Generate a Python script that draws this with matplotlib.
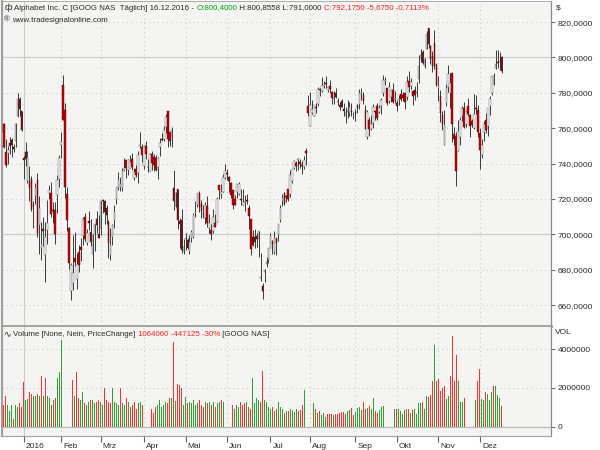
import matplotlib
matplotlib.use("Agg")
import matplotlib.pyplot as plt
import numpy as np
from matplotlib.transforms import ScaledTranslation

plt.rcParams["font.family"] = ["Liberation Sans", "DejaVu Sans"]

# ---------------------------------------------------------------------------
# Data: GOOG daily candles 16.12.2015 - 16.12.2016
# ---------------------------------------------------------------------------
days_per_month = [11, 19, 20, 22, 21, 21, 22, 20, 23, 21, 21, 21, 12]
month_labels = ["2016", "Feb", "Mrz", "Apr", "Mai", "Jun", "Jul", "Aug",
                "Sep", "Okt", "Nov", "Dez"]

opens = [
    750.00, 762.42, 746.51, 746.13, 751.65, 753.47, 749.55, 752.92, 766.69, 776.60, 769.50,
    743.00, 746.45, 730.00, 730.31, 731.45, 716.61, 721.68, 730.85, 705.38, 692.29,
    703.30, 688.61, 702.18, 723.60, 723.58, 713.85, 713.67, 722.22, 731.53,
    750.46, 784.50, 770.22, 722.81, 703.87, 667.85, 672.32, 686.86, 675.00, 690.26,
    692.98, 699.00, 710.00, 695.03, 707.45, 701.45, 688.92, 700.01, 708.58, 700.32,
    703.62, 719.00, 718.68, 714.99, 706.90, 688.59, 698.47, 708.12, 720.00, 726.81, 726.92,
    726.37, 736.45, 741.86, 736.50, 737.46, 742.36, 732.01, 736.79, 734.59, 750.10, 749.25,
    738.60, 750.06, 738.00, 735.77, 745.37, 743.97, 743.02, 738.00, 749.16, 754.01, 753.98,
    760.46, 769.51, 758.00, 755.38, 726.30, 716.10, 725.42, 707.29, 708.26, 690.70,
    697.63, 696.87, 690.49, 697.70, 698.38, 712.00, 716.75, 723.41, 717.06, 711.93, 709.13,
    715.99, 703.67, 702.36, 701.62, 706.53, 706.86, 728.09, 722.87, 724.01, 731.74,
    734.53, 732.50, 729.27, 724.91, 719.84, 723.96, 722.87, 719.47, 716.51, 718.27, 719.00,
    714.91, 708.65, 698.77, 698.40, 699.06, 697.45, 675.17, 671.00, 678.97, 683.00, 685.47,
    692.20, 696.06, 689.98, 698.08, 699.50, 708.05, 719.12, 723.62, 721.58, 725.73,
    722.71, 729.89, 737.33, 740.36, 741.86, 740.67, 739.04, 738.28, 747.04, 772.71,
    761.09, 768.69, 767.18, 772.22, 773.78, 782.00, 781.10, 783.75, 785.00, 781.50, 783.75, 780.30,
    777.32, 780.01, 775.00, 773.27, 775.48, 770.58, 767.00, 769.00, 768.74, 769.33, 767.01,
    769.25, 773.01, 773.45, 780.00, 778.59, 770.10, 755.13, 764.48, 759.61, 762.89, 769.75,
    772.42, 769.00, 772.66, 780.00, 786.59, 782.74, 775.50, 777.85, 781.44, 776.33,
    774.25, 776.03, 779.31, 779.00, 779.66, 777.71, 786.66, 783.76, 781.22, 781.65, 779.80,
    787.85, 798.86, 803.30, 795.00, 804.90, 816.68, 806.34, 801.00, 808.35, 795.47,
    782.89, 778.20, 767.25, 750.66, 774.50, 783.40, 779.94, 791.17, 756.54, 755.60, 746.97,
    755.20, 766.92, 771.37, 762.61, 772.63, 767.73, 764.26, 760.00, 771.53, 770.07,
    757.44, 744.59, 757.71, 764.73, 761.00, 772.48, 780.00, 785.04, 793.90, 797.40, 797.34, 800.40,
]
highs = [
    760.59, 762.68, 754.13, 750.00, 754.85, 754.21, 751.35, 762.99, 779.98, 777.60, 769.50,
    744.06, 752.00, 747.18, 738.50, 733.23, 718.86, 728.75, 734.74, 721.93, 706.74,
    709.98, 706.85, 719.19, 728.13, 729.68, 718.28, 718.24, 733.69, 744.99,
    757.86, 789.87, 774.50, 727.00, 703.99, 684.03, 699.90, 701.31, 689.35, 693.75,
    698.00, 709.75, 712.35, 703.08, 713.24, 708.40, 700.00, 705.98, 713.43, 710.89,
    718.81, 720.00, 719.45, 716.49, 708.09, 703.79, 705.68, 716.44, 726.92, 735.50, 732.29,
    737.47, 743.07, 742.00, 742.50, 745.00, 745.72, 737.75, 738.99, 747.25, 757.88, 750.85,
    750.34, 752.80, 742.80, 746.24, 747.00, 745.45, 745.00, 743.83, 754.38, 757.31, 761.00,
    768.05, 769.90, 758.13, 760.45, 736.12, 723.93, 725.77, 708.98, 714.17, 697.62,
    700.64, 697.84, 699.75, 702.32, 711.86, 718.71, 723.50, 724.48, 719.25, 716.66, 718.48,
    721.52, 711.60, 706.00, 714.58, 711.48, 720.97, 728.09, 728.33, 733.94, 739.73,
    737.21, 733.02, 729.49, 724.91, 721.98, 728.57, 729.54, 725.89, 725.44, 722.47, 722.98,
    716.65, 708.82, 702.48, 702.77, 700.86, 701.95, 689.40, 672.30, 680.33, 687.43, 692.32,
    700.65, 696.94, 701.68, 698.20, 705.71, 716.51, 722.94, 724.00, 722.21, 725.74,
    736.13, 736.99, 742.13, 741.69, 743.24, 742.61, 741.69, 744.46, 748.65, 778.55,
    780.43, 775.84, 773.21, 774.07, 783.04, 782.63, 788.94, 786.81, 789.75, 783.40, 787.49, 780.98,
    780.81, 782.86, 777.10, 774.54, 776.44, 774.50, 771.89, 776.08, 774.99, 774.47, 769.09,
    771.02, 773.92, 782.00, 782.73, 780.35, 773.24, 770.29, 766.22, 767.68, 773.80, 769.75,
    774.00, 773.33, 777.16, 789.85, 788.93, 782.74, 785.99, 781.81, 785.80, 780.94,
    776.07, 778.71, 782.07, 780.48, 779.66, 789.38, 792.28, 788.13, 781.22, 783.95, 785.85,
    801.61, 804.63, 803.97, 799.50, 815.18, 816.68, 806.98, 803.49, 815.49, 796.86,
    789.49, 781.65, 769.95, 770.36, 785.19, 795.63, 791.23, 791.17, 760.78, 757.85, 764.42,
    766.36, 772.70, 775.00, 769.70, 777.00, 768.28, 765.00, 779.53, 778.50, 772.99,
    759.85, 754.00, 763.90, 768.83, 771.36, 778.18, 789.43, 791.25, 804.38, 804.00, 803.00, 800.86,
]
lows = [
    739.44, 749.00, 738.15, 740.00, 745.53, 744.00, 746.62, 749.52, 766.43, 766.90, 758.34,
    731.26, 738.64, 728.92, 719.06, 713.00, 703.54, 717.32, 698.61, 689.10, 685.37,
    693.41, 673.26, 694.46, 720.12, 710.01, 706.48, 694.39, 712.35, 726.80,
    743.27, 764.65, 720.50, 701.86, 680.15, 663.06, 668.77, 682.13, 668.87, 678.60,
    685.05, 693.73, 696.03, 694.05, 702.51, 693.58, 680.78, 690.58, 700.86, 697.68,
    699.77, 712.00, 706.02, 706.02, 686.90, 685.34, 694.00, 703.36, 717.12, 725.15, 724.77,
    724.51, 736.00, 731.83, 733.52, 737.46, 736.15, 731.00, 732.50, 728.76, 748.74, 740.94,
    737.00, 742.43, 735.37, 735.56, 736.28, 735.55, 736.05, 731.01, 744.26, 752.71, 752.69,
    757.30, 749.33, 750.01, 749.55, 713.61, 715.59, 703.03, 692.37, 689.55, 689.00,
    691.00, 692.00, 689.01, 695.72, 698.11, 710.00, 715.72, 712.80, 709.00, 709.26, 705.65,
    704.11, 700.63, 696.80, 700.52, 704.18, 706.86, 720.09, 720.28, 724.00, 731.26,
    730.66, 724.17, 720.56, 714.61, 716.55, 720.58, 722.34, 716.43, 716.51, 713.12, 717.31,
    703.26, 688.45, 693.41, 692.01, 693.08, 687.00, 673.45, 663.28, 673.00, 681.59, 683.65,
    692.13, 688.88, 689.09, 688.22, 696.43, 707.24, 715.91, 716.85, 718.03, 719.06,
    721.19, 729.00, 737.10, 735.83, 736.56, 737.50, 734.27, 737.00, 739.30, 766.77,
    761.09, 767.85, 766.82, 768.80, 772.34, 778.09, 780.57, 782.78, 782.97, 780.40, 780.11, 773.44,
    773.53, 777.00, 773.13, 770.05, 771.79, 767.07, 763.18, 765.85, 766.62, 766.84, 765.38,
    764.30, 768.41, 771.00, 776.20, 773.58, 759.66, 754.00, 755.80, 759.11, 759.96, 764.66,
    764.44, 768.53, 768.30, 778.44, 784.15, 773.07, 774.31, 774.97, 774.23, 774.09,
    769.50, 772.89, 775.65, 775.54, 770.75, 775.87, 780.58, 782.06, 773.00, 776.00, 777.50,
    785.57, 797.64, 796.03, 794.00, 804.82, 805.14, 796.32, 791.50, 793.59, 784.00,
    775.54, 763.45, 759.03, 750.56, 772.55, 780.19, 771.67, 752.18, 750.38, 727.54, 746.97,
    750.51, 764.23, 760.00, 760.60, 766.66, 755.25, 760.52, 759.80, 768.24, 754.83,
    737.02, 743.10, 752.90, 757.34, 755.80, 767.23, 779.02, 784.36, 793.34, 794.01, 792.92, 791.00,
]
closes = [
    758.09, 749.43, 739.31, 747.77, 750.00, 750.31, 748.40, 762.51, 776.60, 771.00, 758.88,
    741.84, 742.58, 743.62, 726.39, 714.47, 716.03, 726.07, 700.56, 714.72, 694.45,
    701.79, 698.45, 706.59, 725.25, 711.67, 713.04, 699.99, 730.96, 742.95,
    752.00, 764.65, 726.95, 708.01, 683.57, 682.74, 678.11, 684.12, 683.11, 682.40,
    691.00, 708.40, 697.35, 700.91, 706.46, 695.85, 699.56, 705.75, 705.07, 697.77,
    718.81, 718.85, 712.42, 710.89, 695.16, 693.97, 705.24, 712.82, 726.82, 730.49, 728.33,
    736.09, 737.78, 737.60, 742.09, 740.75, 738.06, 735.30, 733.53, 744.77, 750.53, 744.95,
    749.91, 745.29, 737.80, 745.69, 740.28, 739.15, 736.10, 743.09, 751.72, 753.20, 759.00,
    766.61, 753.93, 752.67, 759.14, 718.77, 723.15, 708.14, 705.84, 691.02, 693.01,
    698.21, 692.36, 695.70, 701.43, 711.12, 712.90, 723.18, 715.29, 713.31, 710.83, 716.49,
    706.23, 706.63, 700.32, 709.74, 704.24, 720.09, 725.27, 724.12, 732.66, 735.72,
    734.15, 730.40, 722.34, 716.55, 716.65, 728.28, 728.58, 719.41, 718.36, 718.27, 718.92,
    710.36, 691.72, 693.71, 695.94, 697.46, 701.87, 675.22, 668.26, 680.04, 684.11, 692.10,
    699.21, 694.49, 697.77, 695.36, 705.63, 715.09, 720.64, 716.98, 720.95, 719.85,
    733.78, 736.96, 741.19, 738.63, 742.74, 739.77, 738.42, 741.77, 745.91, 768.79,
    772.88, 771.07, 773.18, 771.61, 782.22, 781.76, 784.26, 784.68, 784.85, 783.22, 782.44, 777.14,
    779.91, 777.50, 775.42, 772.15, 772.08, 769.64, 769.41, 769.54, 772.15, 769.09, 767.05,
    768.78, 771.46, 780.08, 780.35, 775.32, 759.66, 769.02, 759.69, 762.49, 771.76, 768.88,
    765.70, 771.41, 776.22, 787.21, 786.90, 774.21, 783.01, 781.56, 775.01, 777.29,
    772.56, 776.43, 776.47, 776.86, 775.08, 785.94, 783.07, 786.14, 778.19, 778.53, 779.96,
    795.26, 801.50, 796.97, 799.37, 813.11, 807.67, 799.07, 795.35, 795.37, 784.54,
    783.61, 768.70, 762.13, 762.02, 782.52, 790.51, 785.31, 762.56, 754.02, 736.08, 758.49,
    764.48, 771.23, 760.54, 769.20, 768.27, 760.99, 761.68, 768.24, 770.84, 758.04,
    747.92, 750.50, 762.52, 759.11, 771.19, 776.42, 789.29, 789.27, 796.10, 797.07, 797.85, 792.18,
]
# volume in millions of shares
volumes = [
    1.4, 1.1, 1.6, 1.1, 0.8, 1.1, 0.4, 1.1, 1.0, 1.2, 1.0,
    2.3, 1.4, 1.45, 1.8, 1.7, 1.6, 1.6, 1.7, 1.6, 2.6, 1.6, 2.5, 1.6, 1.5, 1.1, 1.4, 1.5, 2.5, 2.8,
    4.5, 4.5, 4.0, 3.9, 3.3, 2.3, 2.4, 1.6, 2.8, 1.5, 1.4, 1.8, 1.2, 1.1, 1.3, 1.4, 1.4, 1.2, 1.3, 1.4,
    1.3, 1.1, 2.0, 1.4, 1.3, 1.2, 2.0, 1.3, 1.2, 1.1, 2.0, 1.2, 1.1, 1.5, 1.3, 1.0, 1.1, 1.3, 0.9, 1.2, 1.3, 1.1,
    1.1, 0.9, 1.2, 1.0, 0.9, 0.7, 1.0, 1.1, 1.4, 1.0, 1.1, 1.3, 1.2, 1.5, 1.5, 4.35, 1.35, 2.2, 2.15, 2.0, 1.1,
    1.55, 1.2, 1.3, 1.2, 1.4, 1.1, 1.2, 1.4, 1.1, 1.0, 1.3, 1.2, 1.3, 1.1, 1.3, 1.0, 1.2, 1.3, 1.4, 1.3, 1.5,
    1.0, 1.2, 1.3, 1.1, 0.9, 1.1, 1.0, 1.3, 1.1, 1.2, 1.3, 1.0, 0.9, 2.5, 1.2, 1.5, 1.4, 1.3, 2.87, 1.4, 1.3, 1.0,
    0.9, 1.0, 0.8, 0.9, 1.3, 1.0, 0.9, 0.7, 0.8, 0.8, 0.9, 0.85, 0.75, 0.9, 0.8, 0.85, 1.1, 1.9, 2.75, 1.85,
    1.25, 0.8, 1.25, 0.9, 0.7, 0.8, 0.6, 0.7, 0.5, 0.65, 0.65, 0.65, 0.6, 0.65, 0.65, 0.7, 0.75, 0.75, 0.65,
    0.8, 0.85, 0.95, 0.6,
    0.75, 0.95, 1.0, 0.85, 1.3, 0.9, 0.95, 1.05, 0.9, 1.5, 0.8, 0.7, 0.85, 1.0, 1.05, 1.05, 0.85, 1.2, 0.85,
    0.9, 0.9,
    0.9, 0.9, 0.8, 0.65, 0.85, 0.9, 0.9, 0.7, 0.85, 0.9, 0.65, 1.25, 1.25, 1.3, 0.9, 1.6, 1.55, 1.65, 2.35,
    4.2, 2.35,
    2.45, 1.85, 2.0, 2.1, 1.45, 1.6, 2.6, 4.7, 2.35, 3.7, 2.35, 1.3, 1.3, 1.5, 1.5, 1.4, 1.45, 0.57, 2.1,
    1.4, 2.35,
    3.0, 1.45, 1.4, 1.8, 1.7, 1.4, 1.8, 2.1, 2.1, 1.65, 1.5, 1.06,
]

price_ticks = [660, 680, 700, 720, 740, 760, 780, 800, 820]
volume_ticks = [0, 2, 4]
volume_tick_labels = ["0", "2000000", "4000000"]

# ---------------------------------------------------------------------------
PANEL_BG = "#F4F5F3"
GRID = "#C9CEC9"
TEXT = "#2A2A2A"
VOL_RED = "#FF3030"
VOL_GREEN = "#30A030"
FS = 5.7

o = np.array(opens)
h = np.array(highs)
l = np.array(lows)
c = np.array(closes)
v = np.array(volumes)
x = np.arange(len(c))
month_starts = np.cumsum(days_per_month)[:-1]

fig = plt.figure(figsize=(6, 4.5), dpi=100)
fig.patch.set_facecolor("white")

ax_p = fig.add_axes([2 / 600, 1 - 326 / 450, 549 / 600, 325 / 450])
ax_v = fig.add_axes([2 / 600, 1 - 436 / 450, 549 / 600, 109 / 450], sharex=ax_p)

for ax in (ax_p, ax_v):
    ax.set_facecolor(PANEL_BG)
    ax.yaxis.tick_right()
    ax.tick_params(axis="y", direction="out", length=3, width=0.8, color="#707070",
                   labelsize=6, labelcolor=TEXT, pad=2)
    for side in ("left", "bottom", "right", "top"):
        ax.spines[side].set_color("#A0A0A0")
    ax.spines["top"].set_linewidth(0.6)
    ax.spines["left"].set_linewidth(1.6)
    ax.spines["right"].set_linewidth(0.9)
    ax.spines["right"].set_color("#8A8A8A")
    # month grid: solid at the year change, dotted elsewhere
    for k, pos in enumerate(month_starts):
        ax.axvline(pos, color=GRID, lw=0.8, ls="-" if k == 0 else (0, (1, 3)), zorder=0)

ax_p.spines["bottom"].set_linewidth(2.0)
ax_v.spines["top"].set_linewidth(0.0)

# --- price panel ---------------------------------------------------------
ax_p.set_xlim(0.1, 278)
ax_p.set_ylim(648.2, 831.9)
ax_p.set_yticks(price_ticks)
ax_p.set_yticklabels([f"{t:.4f}".replace(".", ",") for t in price_ticks])
for t in price_ticks:
    solid = t in (700, 800)
    ax_p.axhline(t, color=GRID, lw=0.9 if solid else 0.8,
                 ls="-" if solid else (0, (1, 3)), zorder=0)
ax_p.tick_params(axis="x", bottom=False, labelbottom=False)

up = c >= o
ax_p.vlines(x, l, h, color="#3A3A3A", lw=0.7, zorder=2)
ax_p.bar(x, np.maximum(np.abs(c - o), 0.5), bottom=np.minimum(o, c), width=0.8,
         color=np.where(up, "#FAFAFA", "#D00000"),
         edgecolor=np.where(up, "#555555", "#3A0000"),
         linewidth=0.3, zorder=3)

# --- volume panel --------------------------------------------------------
ax_v.set_ylim(-0.48, 5.15)
ax_v.set_yticks(volume_ticks)
ax_v.set_yticklabels(volume_tick_labels)
ax_v.axhline(0, color="#B8BDB8", lw=1.0, zorder=0)
for t in volume_ticks[1:]:
    ax_v.axhline(t, color=GRID, lw=0.8, ls=(0, (1, 3)), zorder=0)

change = np.diff(c, prepend=c[0])
vol_colors = [VOL_GREEN if d >= 0 else VOL_RED for d in change]
ax_v.bar(x, v, width=0.45, color=vol_colors, linewidth=0, zorder=2)

ax_v.set_xticks(month_starts)
ax_v.set_xticklabels(month_labels)
ax_v.tick_params(axis="x", direction="out", length=4, width=0.8, color="#606060",
                 labelsize=6, labelcolor=TEXT, pad=1)
shift = ScaledTranslation(2 / 100, 0, fig.dpi_scale_trans)
for lab in ax_v.get_xticklabels():
    lab.set_horizontalalignment("left")
    lab.set_transform(lab.get_transform() + shift)


# --- header texts --------------------------------------------------------
def put_segments(x0, y, segments):
    renderer = fig.canvas.get_renderer()
    xx = x0
    for s, col in segments:
        t = fig.text(xx, y, s, color=col, fontsize=FS, va="center", ha="left")
        bb = t.get_window_extent(renderer=renderer)
        xx = bb.x1 / fig.bbox.width


put_segments(14 / 600, 1 - 8 / 450, [
    ("Alphabet Inc. C [GOOG NAS  Täglich] 16.12.2016 - ", TEXT),
    ("O:800,4000", "#00A800"),
    (" H:800,8558 L:791,0000 ", TEXT),
    ("C:792,1750 -5,6750 -0,7113%", "#FF2020"),
])
fig.text(5 / 600, 1 - 8 / 450, "ф", fontsize=FS + 1, color=TEXT, va="center", ha="left")
fig.text(4 / 600, 1 - 20 / 450, "®", fontsize=FS, color=TEXT, va="center", ha="left")
fig.text(12 / 600, 1 - 20 / 450, "www.tradesignalonline.com", fontsize=FS, color=TEXT,
         va="center", ha="left")
fig.text(556 / 600, 1 - 8 / 450, "$", fontsize=6, color=TEXT, va="center", ha="left")

fig.text(3 / 600, 1 - 334 / 450, "∿", fontsize=FS + 1, color=TEXT, va="center", ha="left")
put_segments(13 / 600, 1 - 334 / 450, [
    ("Volume [None, Nein, PriceChange] ", TEXT),
    ("1064060 -447125 -30%", "#FF2020"),
    (" [GOOG NAS]", TEXT),
])
fig.text(555 / 600, 1 - 333 / 450, "VOL", fontsize=6, color=TEXT, va="center", ha="left")

fig.savefig("out.png", dpi=100)
